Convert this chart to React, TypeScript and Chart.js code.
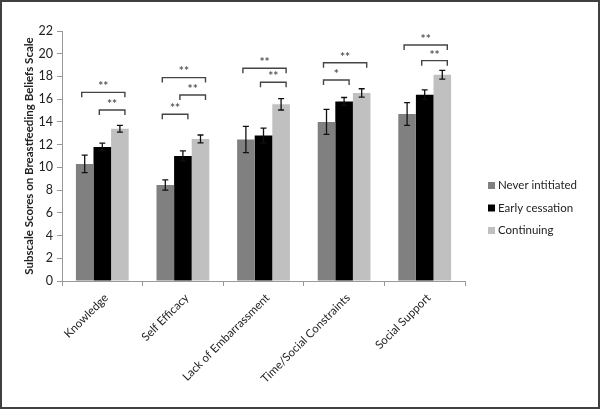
import React, { useEffect, useRef } from "react";
import { Chart, registerables } from "chart.js";

Chart.register(...registerables);

const categories = [
  "Knowledge",
  "Self Efficacy",
  "Lack of Embarrassment",
  "Time/Social Constraints",
  "Social Support",
];
const seriesNames = ["Never intitiated", "Early cessation", "Continuing"];
const neverInitiated = [10.3, 8.45, 12.45, 14.0, 14.7];
const neverErr = [0.77, 0.45, 1.15, 1.1, 1.0];
const earlyCessation = [11.8, 11.0, 12.8, 15.8, 16.4];
const earlyErr = [0.33, 0.45, 0.65, 0.35, 0.42];
const continuing = [13.4, 12.5, 15.55, 16.55, 18.15];
const continuingErr = [0.3, 0.35, 0.5, 0.37, 0.38];
const yTicks = [0, 2, 4, 6, 8, 10, 12, 14, 16, 18, 20, 22];

// significance brackets: [category index, from series, to series, level, label]
const bracketCats = [0, 0, 1, 1, 1, 2, 2, 3, 3, 4, 4];
const bracketFrom = [0, 1, 0, 1, 0, 0, 1, 0, 0, 0, 1];
const bracketTo = [2, 2, 2, 2, 1, 2, 2, 2, 1, 2, 2];
const bracketLevel = [16.6, 15.05, 17.9, 16.37, 14.67, 18.72, 17.49, 19.21, 17.69, 20.77, 19.39];
const bracketLabel = ["**", "**", "**", "**", "**", "**", "**", "**", "*", "**", "**"];

const colors = ["#808080", "#000000", "#c0c0c0"];
const FONT = "Lato, 'Open Sans', sans-serif";

const errorBarPlugin = {
  id: "errorBars",
  afterDatasetsDraw(chart: any) {
    const ctx = chart.ctx;
    const y = chart.scales.y;
    chart.data.datasets.forEach((ds: any, i: number) => {
      const meta = chart.getDatasetMeta(i);
      meta.data.forEach((bar: any, j: number) => {
        const v = ds.data[j];
        const e = ds.errors[j];
        const yt = y.getPixelForValue(v + e);
        const yb = y.getPixelForValue(v - e);
        const x = bar.x;
        ctx.save();
        ctx.strokeStyle = "#111";
        ctx.lineWidth = 1.3;
        ctx.beginPath();
        ctx.moveTo(x, yt);
        ctx.lineTo(x, yb);
        ctx.moveTo(x - 3, yt);
        ctx.lineTo(x + 3, yt);
        ctx.moveTo(x - 3, yb);
        ctx.lineTo(x + 3, yb);
        ctx.stroke();
        ctx.restore();
      });
    });
  },
};

const bracketPlugin = {
  id: "brackets",
  afterDatasetsDraw(chart: any) {
    const ctx = chart.ctx;
    const y = chart.scales.y;
    ctx.save();
    for (let k = 0; k < bracketCats.length; k++) {
      const c = bracketCats[k];
      const b1 = chart.getDatasetMeta(bracketFrom[k]).data[c];
      const b2 = chart.getDatasetMeta(bracketTo[k]).data[c];
      const x1 = b1.x - 3;
      const x2 = b2.x + 5;
      const yy = y.getPixelForValue(bracketLevel[k]);
      ctx.strokeStyle = "#444";
      ctx.lineWidth = 1.4;
      ctx.beginPath();
      ctx.moveTo(x1, yy + 5);
      ctx.lineTo(x1, yy);
      ctx.lineTo(x2, yy);
      ctx.lineTo(x2, yy + 5);
      ctx.stroke();
      ctx.fillStyle = "#555";
      ctx.font = `bold 12px ${FONT}`;
      ctx.textAlign = "center";
      ctx.textBaseline = "middle";
      ctx.fillText(bracketLabel[k], (x1 + x2) / 2, yy - 6);
    }
    ctx.restore();
  },
};

const legendAndFramePlugin = {
  id: "legendFrame",
  afterDraw(chart: any) {
    const ctx = chart.ctx;
    const area = chart.chartArea;
    ctx.save();
    const lx = area.right + 23;
    const cy = (area.top + area.bottom) / 2 + 52;
    chart.data.datasets.forEach((ds: any, i: number) => {
      const yc = cy + (i - 1) * 22.5;
      ctx.fillStyle = ds.backgroundColor;
      ctx.fillRect(lx, yc - 3.5, 7, 7);
      ctx.fillStyle = "#222";
      ctx.font = `11.5px ${FONT}`;
      ctx.textAlign = "left";
      ctx.textBaseline = "middle";
      ctx.fillText(ds.label, lx + 10, yc);
    });
    ctx.strokeStyle = "#404040";
    ctx.lineWidth = 2;
    ctx.strokeRect(1, 1, chart.width - 2, chart.height - 2);
    ctx.restore();
  },
};

export default function App() {
  const ref = useRef<HTMLCanvasElement>(null);
  useEffect(() => {
    if (!ref.current) return;
    const chart = new Chart(ref.current, {
      type: "bar",
      data: {
        labels: categories,
        datasets: [
          { label: seriesNames[0], data: neverInitiated, errors: neverErr, backgroundColor: colors[0] } as any,
          { label: seriesNames[1], data: earlyCessation, errors: earlyErr, backgroundColor: colors[1] } as any,
          { label: seriesNames[2], data: continuing, errors: continuingErr, backgroundColor: colors[2] } as any,
        ],
      },
      options: {
        responsive: false,
        animation: false,
        devicePixelRatio: 1,
        layout: { padding: { left: 14, top: 31, right: 135, bottom: 0 } },
        datasets: { bar: { barPercentage: 1, categoryPercentage: 0.655 } } as any,
        plugins: { legend: { display: false }, tooltip: { enabled: false } },
        scales: {
          x: {
            grid: { display: true, drawOnChartArea: false, drawTicks: true, tickLength: 5, color: "#999", offset: true },
            border: { color: "#999" },
            ticks: {
              minRotation: 45,
              maxRotation: 45,
              autoSkip: false,
              color: "#222",
              font: { family: FONT, size: 11.5 },
              padding: 5,
              labelOffset: 4,
            },
            afterFit(scale: any) {
              scale.height = 409 - 281;
            },
          },
          y: {
            min: 0,
            max: 22,
            afterBuildTicks(scale: any) {
              scale.ticks = yTicks.map((v) => ({ value: v }));
            },
            grid: { display: true, drawOnChartArea: false, drawTicks: true, tickLength: 5, color: "#999" },
            border: { color: "#999" },
            ticks: { color: "#222", font: { family: FONT, size: 12.5 }, padding: 4 },
            title: {
              display: true,
              text: "Subscale Scores on Breastfeeding Beliefs Scale",
              color: "#222",
              font: { family: FONT, size: 11.5, weight: "bold" },
              padding: { top: 8, bottom: 0 },
            },
            afterFit(scale: any) {
              scale.width = 62 - 14;
            },
          },
        },
      },
      plugins: [errorBarPlugin, bracketPlugin, legendAndFramePlugin],
    });
    return () => chart.destroy();
  }, []);
  return (
    <div style={{ position: "fixed", left: 0, top: 0, width: 600, height: 409, background: "#fff" }}>
      <canvas ref={ref} width={600} height={409} style={{ display: "block" }} />
    </div>
  );
}
